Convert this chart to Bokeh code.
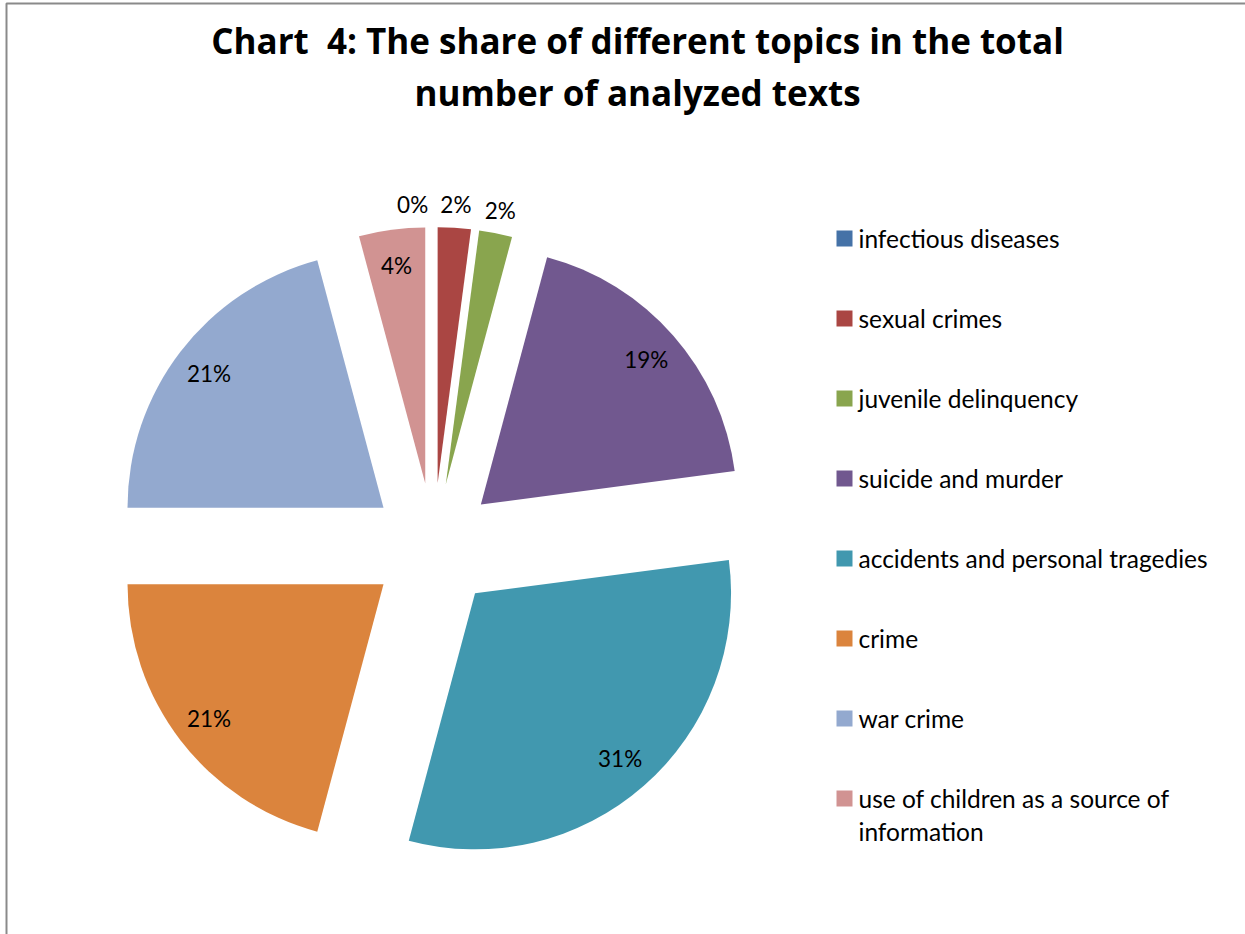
import math
import textwrap
import numpy as np
from bokeh.plotting import figure
from bokeh.models import Range1d, ColumnDataSource
from bokeh.core.properties import value
from bokeh.embed import file_html
from bokeh.resources import INLINE

# ---- data ----
title_lines = ["Chart\u00a0 4: The share of different topics in the total",
               "number of analyzed texts"]
categories = ["infectious diseases", "sexual crimes", "juvenile delinquency",
              "suicide and murder", "accidents and personal tragedies",
              "crime", "war crime", "use of children as a source of information"]
counts = [0, 1, 1, 9, 15, 10, 10, 2]
colors = ["#4572A7", "#AA4643", "#89A54E", "#71588F",
          "#4198AF", "#DB843D", "#93A9CF", "#D19392"]

# ---- layout ----
W, H = 1245, 934
FONT = "Lato"
TFONT = "Open Sans"
CX, CY = 433.0, H - 545.5
R = 256.0
EXPLODE = 63.0


def sy(y):
    return H - y


p = figure(width=W, height=H, output_backend="svg", toolbar_location=None,
           x_range=Range1d(0, W), y_range=Range1d(0, H), min_border=0,
           x_axis_location=None, y_axis_location=None)
p.grid.visible = False
p.outline_line_color = None
p.background_fill_color = "white"
p.border_fill_color = "white"

# chart border
p.quad(left=[6], right=[W + 20], top=[sy(3)], bottom=[-20],
       fill_color=None, line_color="#8a8a8a", line_width=2)

# ---- pie ----
total = float(sum(counts))
fr = np.array(counts, dtype=float) / total
cum = np.concatenate([[0.0], np.cumsum(fr)])
a0 = cum[:-1] * 2 * math.pi   # clockwise from 12 o'clock
a1 = cum[1:] * 2 * math.pi
mid = (a0 + a1) / 2
ox = CX + EXPLODE * np.sin(mid)
oy = CY + EXPLODE * np.cos(mid)

keep = [i for i in range(len(counts)) if counts[i] > 0]
src = ColumnDataSource(dict(
    x=[ox[i] for i in keep], y=[oy[i] for i in keep],
    start=[math.pi / 2 - a1[i] for i in keep],
    end=[math.pi / 2 - a0[i] for i in keep],
    color=[colors[i] for i in keep]))
p.wedge(x="x", y="y", radius=R, start_angle="start", end_angle="end",
        direction="anticlock", fill_color="color", line_color=None, source=src)

# ---- data labels ----
pcts = [f"{int(round(f * 100))}%" for f in fr]
lx, ly = [], []
for i, f in enumerate(fr):
    ang = mid[i]
    if f * 100 >= 3:
        dist = 283.0
    else:
        dist = 342.0
        if counts[i] == 0:
            ang -= math.radians(3.5)
    lx.append(CX + dist * math.sin(ang))
    ly.append(CY + dist * math.cos(ang))
p.text(x=lx, y=ly, text=pcts, text_font=value(FONT), text_font_size="22.5px",
       text_color="black", text_align="center", text_baseline="middle")

# ---- title ----
for j, line in enumerate(title_lines):
    p.text(x=[637], y=[sy(40 + 52 * j)], text=[line], text_font=value(TFONT),
           text_font_size="35px", text_font_style="bold", text_color="black",
           text_align="center", text_baseline="middle")

# ---- legend ----
LX, LY0, LSTEP, LINEH = 844, 238, 80, 33
for i, cat in enumerate(categories):
    yc = LY0 + LSTEP * i
    p.rect(x=[LX], y=[sy(yc)], width=16, height=16, fill_color=colors[i],
           line_color=None)
    for j, ln in enumerate(textwrap.wrap(cat, 32)):
        p.text(x=[LX + 14], y=[sy(yc + LINEH * j)], text=[ln],
               text_font=value(FONT), text_font_size="24.5px",
               text_color="black", text_align="left", text_baseline="middle")

open("out.html", "w").write(file_html(p, INLINE))
